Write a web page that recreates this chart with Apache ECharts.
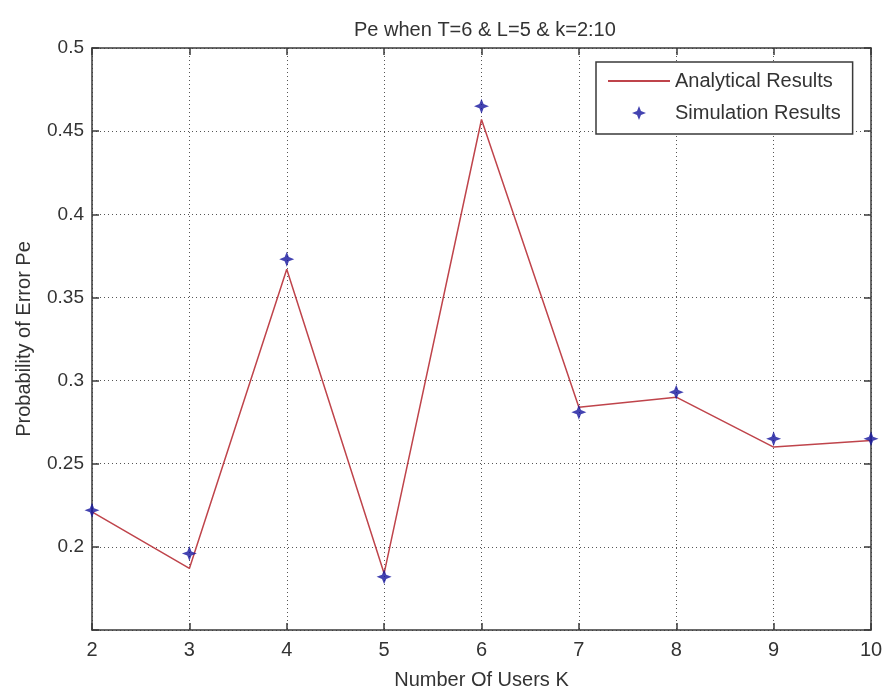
<!DOCTYPE html>
<html>
<head>
<meta charset="utf-8">
<title>Pe when T=6 & L=5 & k=2:10</title>
<script src="https://cdn.jsdelivr.net/npm/echarts@6/dist/echarts.min.js"></script>
<style>
    html, body { margin: 0; padding: 0; background: #fff; }
    #chart { width: 882px; height: 688px; }
</style>
</head>
<body>
<div id="chart"></div>
<script>
// number of users K
var users = [2, 3, 4, 5, 6, 7, 8, 9, 10];
// Pe, analytical (line) and simulation (stars)
var analytical = [0.221, 0.187, 0.367, 0.184, 0.457, 0.284, 0.290, 0.260, 0.264];
var simulation = [0.222, 0.196, 0.373, 0.182, 0.465, 0.281, 0.293, 0.265, 0.265];

var FONT = "'Liberation Sans', Arial, sans-serif";
var TEXT = '#333';
var AXIS = '#3a3a3a';
var LINE_COLOR = '#bf444b';
var STAR_COLOR = '#14149e';

function pairs(xs, ys) {
    var out = [];
    for (var i = 0; i < xs.length; i++) {
        out.push([xs[i], ys[i]]);
    }
    return out;
}

var star = 'path://M0,-10 L2.8,-2.8 L10,0 L2.8,2.8 L0,10 L-2.8,2.8 L-10,0 L-2.8,-2.8 Z';

var chart = echarts.init(document.getElementById('chart'), null, {renderer: 'canvas'});

var option = {
    backgroundColor: '#fff',
    animation: false,
    title: {
        text: 'Pe when T=6 & L=5 & k=2:10',
        left: 349,
        top: 15,
        textStyle: {
            fontFamily: FONT,
            fontSize: 20,
            fontWeight: 'normal',
            color: TEXT
        }
    },
    legend: {
        orient: 'vertical',
        left: 596,
        top: 62,
        padding: [9, 12, 11, 12],
        itemWidth: 62,
        itemHeight: 14,
        itemGap: 12,
        backgroundColor: '#fff',
        borderColor: AXIS,
        borderWidth: 1.5,
        borderRadius: 0,
        textStyle: {
            fontFamily: FONT,
            fontSize: 20,
            color: TEXT
        },
        data: [
            {name: 'Analytical Results', icon: 'path://M0,0 L62,0 L62,2 L0,2 Z'},
            {name: 'Simulation Results'}
        ]
    },
    grid: {
        left: 92,
        right: 11,
        top: 48,
        bottom: 58,
        outerBoundsMode: 'none'
    },
    xAxis: [
        {
            type: 'value',
            min: 2,
            max: 10,
            interval: 1,
            name: 'Number Of Users K',
            nameLocation: 'middle',
            nameGap: 40,
            nameTextStyle: {fontFamily: FONT, fontSize: 20, color: TEXT},
            axisLine: {lineStyle: {color: AXIS, width: 1.5}},
            axisTick: {inside: true, length: 7, lineStyle: {color: AXIS, width: 1.5}},
            axisLabel: {margin: 10, fontFamily: FONT, fontSize: 20, color: TEXT},
            splitLine: {show: true, lineStyle: {color: '#555', type: [1, 3], width: 1}}
        },
        {
            type: 'value',
            position: 'top',
            min: 2,
            max: 10,
            interval: 1,
            axisLine: {onZero: false, lineStyle: {color: AXIS, width: 1.5}},
            axisTick: {inside: true, length: 7, lineStyle: {color: AXIS, width: 1.5}},
            axisLabel: {show: false},
            splitLine: {show: false}
        }
    ],
    yAxis: [
        {
            type: 'value',
            min: 0.15,
            max: 0.5,
            interval: 0.05,
            name: 'Probability of Error Pe',
            nameLocation: 'middle',
            nameGap: 58,
            nameTextStyle: {fontFamily: FONT, fontSize: 20, color: TEXT},
            axisLine: {show: true, lineStyle: {color: AXIS, width: 1.5}},
            axisTick: {show: true, inside: true, length: 7, lineStyle: {color: AXIS, width: 1.5}},
            axisLabel: {
                margin: 8,
                fontFamily: FONT,
                fontSize: 19,
                color: TEXT,
                formatter: function (v) {
                    if (v < 0.151) {
                        return ''; // bottom tick has no label
                    }
                    return String(+v.toFixed(2));
                }
            },
            splitLine: {show: true, lineStyle: {color: '#555', type: [1, 3], width: 1}}
        },
        {
            type: 'value',
            position: 'right',
            min: 0.15,
            max: 0.5,
            interval: 0.05,
            axisLine: {show: true, onZero: false, lineStyle: {color: AXIS, width: 1.5}},
            axisTick: {show: true, inside: true, length: 7, lineStyle: {color: AXIS, width: 1.5}},
            axisLabel: {show: false},
            splitLine: {show: false}
        }
    ],
    series: [
        {
            name: 'Analytical Results',
            type: 'line',
            xAxisIndex: 0,
            yAxisIndex: 0,
            data: pairs(users, analytical),
            symbol: 'none',
            color: LINE_COLOR,
            lineStyle: {color: LINE_COLOR, width: 1.5},
            z: 2
        },
        {
            name: 'Simulation Results',
            type: 'scatter',
            xAxisIndex: 0,
            yAxisIndex: 0,
            data: pairs(users, simulation),
            symbol: star,
            symbolSize: 15,
            color: STAR_COLOR,
            itemStyle: {color: STAR_COLOR},
            z: 3
        }
    ]
};

chart.setOption(option);
</script>
</body>
</html>
